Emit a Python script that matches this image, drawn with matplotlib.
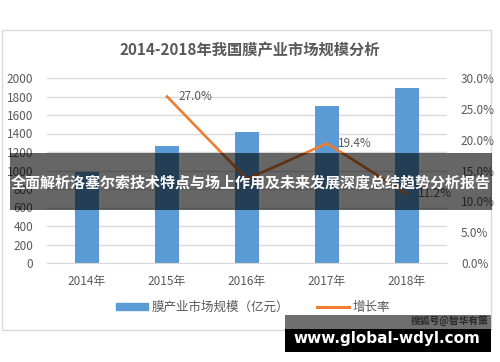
import numpy as np
import matplotlib.pyplot as plt
from matplotlib.patches import Rectangle
from matplotlib.lines import Line2D

plt.rcParams['font.family'] = ['Noto Sans CJK SC', 'DejaVu Sans']

years = ['2014年', '2015年', '2016年', '2017年', '2018年']
market_size = [985, 1265, 1420, 1700, 1895]
growth_years = [1, 2, 3, 4]
growth_rate = [27.0, 13.6, 19.4, 11.2]
growth_labels = {1: '27.0%', 3: '19.4%', 4: '11.2%'}

W, H = 500, 362
gray_txt = '#595959'
grid_c = '#d9d9d9'


def fx(px):
    return px / W


def fy(py):
    return 1 - py / H


fig = plt.figure(figsize=(5, 3.62), dpi=100)

# chart frame
fig.patches.append(Rectangle((fx(1.5), fy(330)), fx(491) - fx(1.5), fy(30) - fy(330),
                             transform=fig.transFigure, facecolor='white',
                             edgecolor=grid_c, lw=1, zorder=-5))

ax = fig.add_axes([fx(47), fy(263), fx(400), fy(78) - fy(263)])
ax.patch.set_visible(False)
ax2 = ax.twinx()

x = np.arange(len(years))
ax.bar(x, market_size, width=0.31, color='#5b9bd5', zorder=2)
ax.set_xlim(-0.5, len(years) - 0.5)
ax.set_ylim(0, 2000)
ax.set_yticks(np.arange(0, 2001, 200))
ax.grid(axis='y', color=grid_c, lw=1, zorder=0)
ax.set_axisbelow(True)
ax.set_xticks(x)
ax.set_xticklabels(years)
for s in ['top', 'right', 'left']:
    ax.spines[s].set_visible(False)
ax.spines['bottom'].set_color(grid_c)
ax.tick_params(axis='both', length=0, colors=gray_txt, labelsize=8.5)
ax.tick_params(axis='x', pad=9)
ax.tick_params(axis='y', pad=10)

gx = [x[i] for i in growth_years]
ax2.plot(gx, growth_rate, color='#ed7d31', lw=1.9, zorder=3)
ax2.set_ylim(0, 30)
ax2.set_yticks(np.arange(0, 31, 5))
ax2.set_yticklabels([f'{v:.1f}%' for v in np.arange(0, 31, 5)])
for s in ['top', 'right', 'left', 'bottom']:
    ax2.spines[s].set_visible(False)
ax2.tick_params(axis='y', length=0, colors=gray_txt, labelsize=8.5, pad=10)
for i, v in zip(growth_years, growth_rate):
    if i in growth_labels:
        ax2.annotate(growth_labels[i], (x[i], v), xytext=(8, 0), textcoords='offset points',
                     va='center', ha='left', color=gray_txt, fontsize=8.5)

fig.text(fx(250), fy(50), '2014-2018年我国膜产业市场规模分析', ha='center', va='center',
         fontsize=11, fontweight='bold', color=gray_txt)

# legend
leg_handles = [Rectangle((0, 0), 1, 1, color='#5b9bd5'),
               Line2D([0], [0], color='#ed7d31', lw=2.2)]
fig.legend(leg_handles, ['膜产业市场规模（亿元）', '增长率'], loc='center',
           bbox_to_anchor=(fx(253), fy(307)), ncol=2, frameon=False, fontsize=9,
           labelcolor=gray_txt, handlelength=2.6, handleheight=0.5, columnspacing=2.2,
           handletextpad=0.3)

# overlay banner
fig.patches.append(Rectangle((fx(10), fy(210)), fx(482), fy(153) - fy(210),
                             transform=fig.transFigure, facecolor='black', alpha=0.6, zorder=10))
fig.text(fx(251), fy(183), '全面解析洛塞尔索技术特点与场上作用及未来发展深度总结趋势分析报告',
         ha='center', va='center', fontsize=10.8, fontweight='bold', color='white', zorder=11)

# watermark box
fig.patches.append(Rectangle((fx(285), fy(329)), fx(206), fy(315) - fy(329),
                             transform=fig.transFigure, facecolor='#6e6e6e', zorder=10))
fig.patches.append(Rectangle((fx(285), fy(352)), fx(206), fy(329) - fy(352),
                             transform=fig.transFigure, facecolor='black', zorder=10))
fig.text(fx(489), fy(321), '搜狐号@智华有策', ha='right', va='center', fontsize=7,
         fontweight='bold', color='#2a2a2a', zorder=11)
fig.text(fx(387), fy(338), 'www.global-wdyl.com', ha='center', va='center',
         fontsize=11, fontweight='bold', color='white', family='DejaVu Sans', zorder=11)

fig.savefig('out.png', dpi=100)
